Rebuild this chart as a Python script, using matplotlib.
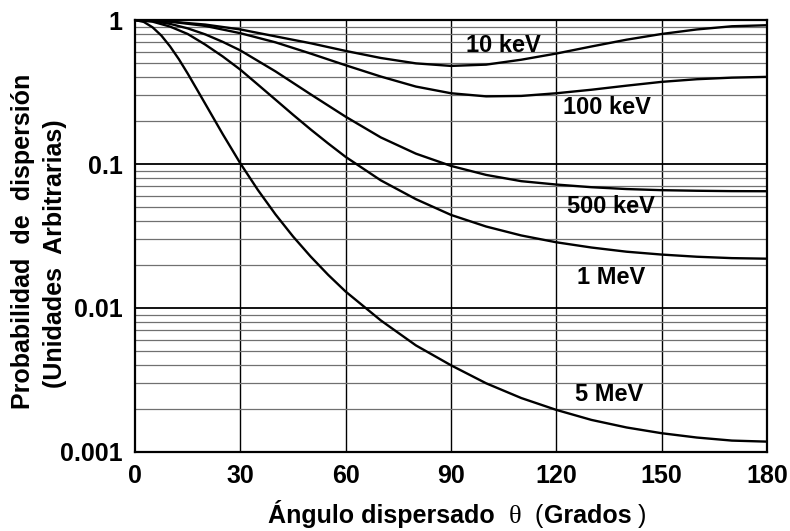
import matplotlib
matplotlib.use("Agg")
import matplotlib.pyplot as plt
from matplotlib.ticker import FixedLocator, LogLocator, NullFormatter
import numpy as np

plt.rcParams["font.family"] = ["Liberation Sans", "DejaVu Sans"]

# ── Data (scattering angle in degrees) ───────────────────────────────────────
theta = [0, 10, 20, 30, 40, 50, 60, 70, 80, 90,
         100, 110, 120, 130, 140, 150, 160, 170, 180]

p_10kev = [1.0, 0.975, 0.93, 0.86, 0.77, 0.69, 0.61, 0.545, 0.50, 0.48,
           0.49, 0.53, 0.585, 0.655, 0.73, 0.80, 0.86, 0.905, 0.92]
p_100kev = [1.0, 0.975, 0.91, 0.81, 0.70, 0.585, 0.485, 0.405, 0.345, 0.31,
            0.295, 0.297, 0.31, 0.328, 0.35, 0.372, 0.388, 0.398, 0.403]

theta_500kev = [0, 5, 10, 15, 20, 25, 30, 40, 50, 60, 70, 80, 90,
                100, 110, 120, 130, 140, 150, 160, 170, 180]
p_500kev = [1.0, 0.985, 0.94, 0.875, 0.795, 0.705, 0.615, 0.44, 0.305, 0.213,
            0.153, 0.118, 0.097, 0.084, 0.076, 0.072, 0.069, 0.067, 0.0658,
            0.0652, 0.0648, 0.0647]

theta_1mev = [0, 5, 10, 15, 20, 25, 30, 35, 40, 45, 50, 55, 60,
              70, 80, 90, 100, 110, 120, 130, 140, 150, 160, 170, 180]
p_1mev = [1.0, 0.974, 0.90, 0.80, 0.675, 0.558, 0.452, 0.356, 0.28, 0.22,
          0.174, 0.139, 0.112, 0.077, 0.057, 0.0443, 0.0368, 0.0319, 0.0286,
          0.0263, 0.0246, 0.0235, 0.0227, 0.0222, 0.022]

theta_5mev = [0, 2.5, 5, 7.5, 10, 12.5, 15, 17.5, 20, 25, 30, 35, 40, 45, 50,
              55, 60, 70, 80, 90, 100, 110, 120, 130, 140, 150, 160, 170, 180]
p_5mev = [1.0, 0.97, 0.89, 0.78, 0.655, 0.534, 0.425, 0.334, 0.262, 0.161,
          0.101, 0.066, 0.0447, 0.0314, 0.0228, 0.017, 0.013, 0.0082, 0.0055,
          0.0040, 0.0030, 0.00237, 0.00196, 0.00167, 0.00148, 0.00135,
          0.00126, 0.0012, 0.00118]

curve_labels = ["10 keV", "100 keV", "500 keV", "1 MeV", "5 MeV"]
label_x = [105, 134.5, 135.5, 135.5, 135]
label_y = [0.67, 0.245, 0.0503, 0.0162, 0.0025]

x_ticks = [0, 30, 60, 90, 120, 150, 180]
y_ticks = [1, 0.1, 0.01, 0.001]
y_tick_labels = ["1", "0.1", "0.01", "0.001"]

# ── Figure ───────────────────────────────────────────────────────────────────
fig = plt.figure(figsize=(7.9, 5.31), dpi=100, facecolor="white")
ax = fig.add_axes([0.1709, 0.1488, 0.8000, 0.8135])
ax.set_yscale("log")
ax.set_xlim(0, 180)
ax.set_ylim(0.001, 1)

# grid: black verticals, grey minor horizontals, black decades
for xv in x_ticks[1:-1]:
    ax.axvline(xv, color="black", lw=1.0, zorder=1)
ax.yaxis.set_minor_locator(LogLocator(base=10, subs=np.arange(2, 10)))
ax.yaxis.set_minor_formatter(NullFormatter())
ax.grid(which="minor", axis="y", color="#707070", lw=0.9, zorder=1)
for yv in y_ticks[1:-1]:
    ax.axhline(yv, color="black", lw=1.3, zorder=1)

for xs, ys in [(theta, p_10kev), (theta, p_100kev), (theta_500kev, p_500kev),
               (theta_1mev, p_1mev), (theta_5mev, p_5mev)]:
    ax.plot(xs, ys, color="black", lw=1.7, zorder=3)

for txt, lx, ly in zip(curve_labels, label_x, label_y):
    ax.text(lx, ly, txt, fontsize=17, fontweight="bold", ha="center",
            va="center", zorder=4)

ax.xaxis.set_major_locator(FixedLocator(x_ticks))
ax.yaxis.set_major_locator(FixedLocator(y_ticks))
ax.set_yticklabels(y_tick_labels)
ax.tick_params(which="both", length=0)
ax.tick_params(axis="x", pad=9, labelsize=18)
ax.tick_params(axis="y", pad=9, labelsize=18)
for lab in ax.get_xticklabels() + ax.get_yticklabels():
    lab.set_fontweight("bold")
for sp in ax.spines.values():
    sp.set_linewidth(1.6)
    sp.set_zorder(5)

# ── Axis titles ──────────────────────────────────────────────────────────────
fig.text(0.029, 0.545, "Probabilidad  de  dispersión", rotation=90,
         fontsize=18, fontweight="bold", ha="center", va="center")
fig.text(0.069, 0.523, "(Unidades  Arbitrarias)", rotation=90,
         fontsize=18, fontweight="bold", ha="center", va="center")

# x title built from pieces: bold words, serif theta, thin parentheses
pieces = [("Ángulo dispersado  ", dict(fontweight="bold")),
          ("θ", dict(family="Liberation Serif", fontsize=19)),
          ("  (", dict(fontweight="normal")),
          ("Grados", dict(fontweight="bold")),
          (" )", dict(fontweight="normal"))]
renderer = fig.canvas.get_renderer()
x0 = 268 / 790
y_base = 1 - 523 / 531
for txt, kw in pieces:
    opts = dict(fontsize=18, va="baseline", ha="left")
    opts.update(kw)
    t = fig.text(x0, y_base, txt, **opts)
    bb = t.get_window_extent(renderer=renderer)
    x0 = bb.x1 / fig.bbox.width

fig.savefig("out.png", dpi=100, facecolor="white")
